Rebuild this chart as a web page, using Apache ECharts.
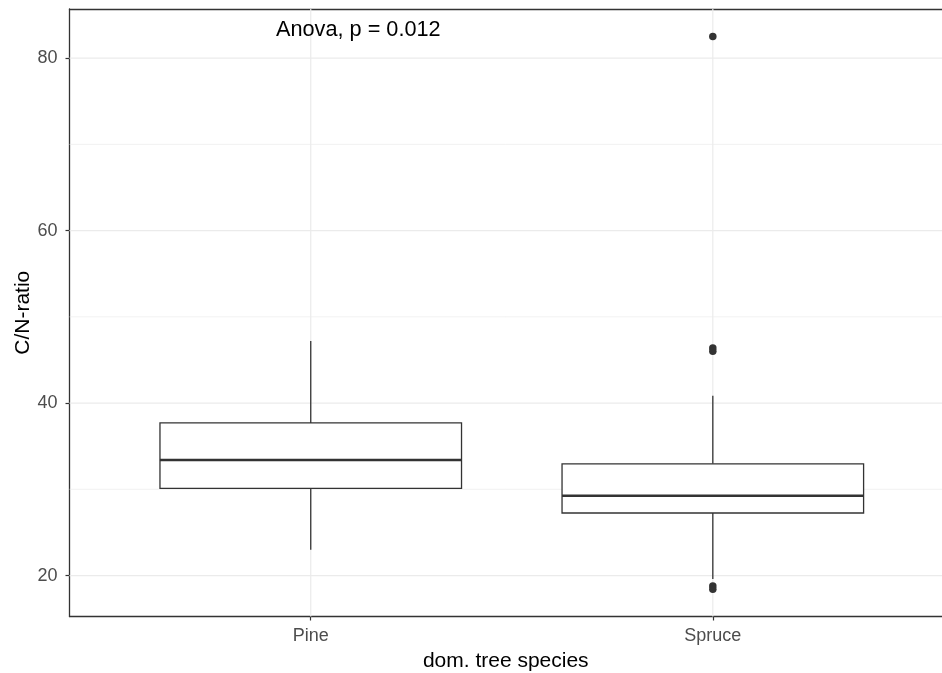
<!DOCTYPE html>
<html>
<head>
<meta charset="utf-8">
<script src="https://cdn.jsdelivr.net/npm/echarts@6/dist/echarts.min.js"></script>
<style>
  html, body { margin: 0; padding: 0; background: #fff; }
  #chart { width: 942px; height: 673px; }
</style>
</head>
<body>
<div id="chart"></div>
<script>
// groups on the x axis (positions 1 and 2)
var categories = ['Pine', 'Spruce']
var categoryPos = [1, 2]
// box stats: [lower whisker, Q1, median, Q3, upper whisker]
var pineBox = [23.0, 30.1, 33.4, 37.7, 47.2]
var spruceBox = [19.6, 27.25, 29.25, 32.95, 40.85]
// outliers (only Spruce has them)
var spruceOutliers = [82.5, 46.4, 46.0, 18.8, 18.4]
var yTicks = [20, 40, 60, 80]
var yGrid = [20, 30, 40, 50, 60, 70, 80]
var pLabel = 'Anova, p = 0.012'

var font = 'Liberation Sans, Arial, sans-serif'
var ink = '#333333'

var boxData = [
  [categoryPos[0]].concat(pineBox),
  [categoryPos[1]].concat(spruceBox)
]
var outlierData = spruceOutliers.map(function (v) { return [categoryPos[1], v] })

// gridlines: [orientation, value]  0 = horizontal, 1 = vertical
var gridData = yGrid.map(function (v) { return [0, v] })
  .concat(categoryPos.map(function (v) { return [1, v] }))

function renderGrid (params, api) {
  var cs = params.coordSys
  var dir = api.value(0), v = api.value(1)
  var shape
  if (dir === 0) {
    var py = api.coord([1, v])[1]
    shape = { x1: cs.x, y1: py, x2: cs.x + cs.width, y2: py }
  } else {
    var px = api.coord([v, 50])[0]
    shape = { x1: px, y1: cs.y, x2: px, y2: cs.y + cs.height }
  }
  var major = dir === 1 || v % 20 === 0
  return { type: 'line', shape: shape, style: { stroke: '#ebebeb', lineWidth: major ? 1.2 : 0.7 } }
}

function renderBox (params, api) {
  var x = api.value(0)
  var lo = api.value(1), q1 = api.value(2), med = api.value(3), q3 = api.value(4), hi = api.value(5)
  var hw = 0.375
  var pTop = api.coord([x, hi])
  var pQ3 = api.coord([x, q3])
  var pQ1 = api.coord([x, q1])
  var pLow = api.coord([x, lo])
  var tl = api.coord([x - hw, q3])
  var br = api.coord([x + hw, q1])
  var ml = api.coord([x - hw, med])
  var mr = api.coord([x + hw, med])
  var line = { stroke: ink, lineWidth: 1.3 }
  return {
    type: 'group',
    children: [
      { type: 'line', shape: { x1: pTop[0], y1: pTop[1], x2: pQ3[0], y2: pQ3[1] }, style: line },
      { type: 'line', shape: { x1: pQ1[0], y1: pQ1[1], x2: pLow[0], y2: pLow[1] }, style: line },
      { type: 'rect', shape: { x: tl[0], y: tl[1], width: br[0] - tl[0], height: br[1] - tl[1] },
        style: { fill: '#fff', stroke: ink, lineWidth: 1.3 } },
      { type: 'line', shape: { x1: ml[0], y1: ml[1], x2: mr[0], y2: mr[1] },
        style: { stroke: ink, lineWidth: 2.6 } }
    ]
  }
}

var chart = echarts.init(document.getElementById('chart'))
var option = {
  animation: false,
  backgroundColor: '#fff',
  grid: {
    left: 69.5, right: 0, top: 9, bottom: 56.5,
    show: false, containLabel: false, outerBoundsMode: 'none'
  },
  xAxis: [{
    type: 'value',
    min: 0.4,
    max: 2.57,
    name: 'dom. tree species',
    nameLocation: 'middle',
    nameGap: 33,
    nameTextStyle: { color: '#000', fontSize: 21, fontFamily: font },
    axisLine: { show: true, onZero: false, lineStyle: { color: ink, width: 1.3 } },
    axisTick: { show: true, length: 4, customValues: categoryPos, lineStyle: { color: ink, width: 1.2 } },
    axisLabel: {
      customValues: categoryPos,
      margin: 11,
      color: '#4d4d4d', fontSize: 18, fontFamily: font,
      formatter: function (v) { return categories[categoryPos.indexOf(v)] || '' }
    },
    splitLine: { show: false }
  }, {
    // top border of the panel
    type: 'value',
    position: 'top',
    min: 0.4,
    max: 2.57,
    axisLine: { show: true, onZero: false, lineStyle: { color: ink, width: 1.3 } },
    axisTick: { show: false },
    axisLabel: { show: false },
    splitLine: { show: false }
  }],
  yAxis: {
    type: 'value',
    min: 15.25,
    max: 85.7,
    name: 'C/N-ratio',
    nameLocation: 'middle',
    nameGap: 36,
    nameMoveOverlap: false,
    nameTextStyle: { color: '#000', fontSize: 21, fontFamily: font },
    axisLine: { show: true, onZero: false, lineStyle: { color: ink, width: 1.3 } },
    axisTick: { show: true, length: 4, customValues: yTicks, lineStyle: { color: ink, width: 1.2 } },
    axisLabel: { customValues: yTicks, margin: 12, color: '#4d4d4d', fontSize: 18, fontFamily: font },
    splitLine: { show: false }
  },
  graphic: [{
    type: 'text',
    left: 276,
    top: 19,
    z: 100,
    style: { text: pLabel, fill: '#000', fontSize: 21.7, fontFamily: font }
  }],
  series: [
    {
      type: 'custom',
      renderItem: renderGrid,
      data: gridData,
      silent: true,
      z: 1
    },
    {
      type: 'custom',
      renderItem: renderBox,
      data: boxData,
      encode: { x: 0, y: [1, 2, 3, 4, 5] },
      silent: true,
      z: 3
    },
    {
      type: 'scatter',
      data: outlierData,
      symbol: 'circle',
      symbolSize: 7.5,
      itemStyle: { color: ink, opacity: 1, borderWidth: 0 },
      z: 4
    }
  ]
}
chart.setOption(option)
</script>
</body>
</html>
